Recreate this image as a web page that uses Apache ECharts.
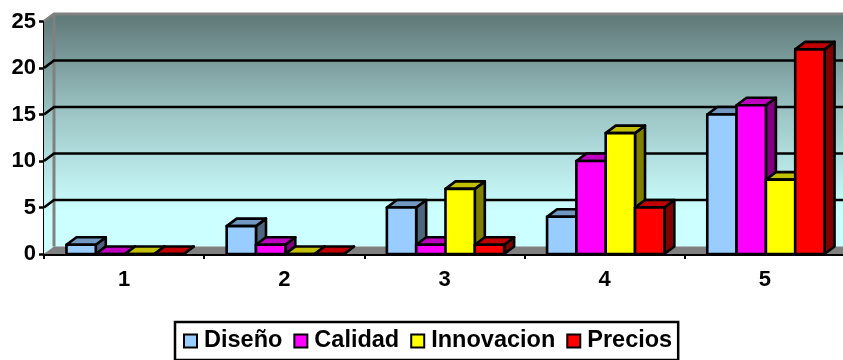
<!DOCTYPE html>
<html>
<head>
<meta charset="utf-8">
<style>html,body{margin:0;padding:0;background:#fff}#chart{width:843px;height:360px}</style>
<script src="https://cdn.jsdelivr.net/npm/echarts@6/dist/echarts.min.js"></script>
</head>
<body>
<div id="chart"></div>
<script>
// Survey scores per group, one array per attribute
const categories = ['1', '2', '3', '4', '5'];
const diseno = [1, 3, 5, 4, 15];
const calidad = [0, 1, 1, 10, 16];
const innovacion = [0, 0, 7, 13, 8];
const precios = [0, 0, 1, 5, 22];
const yTicks = [0, 5, 10, 15, 20, 25];

const FONT = '"Liberation Sans", Arial, sans-serif';
const DX = 10, DY = 7.5;        // depth of the 3D projection, in pixels
const BAR_SHARE = 0.183;        // each bar's share of the category band
const BAR_SHIFT = 1;            // nudge of the bar cluster inside its band

const palette = [
  { name: 'Diseño', values: diseno, front: '#99ccff', top: '#7098c0', side: '#4d6680' },
  { name: 'Calidad', values: calidad, front: '#ff00ff', top: '#c000c0', side: '#800080' },
  { name: 'Innovacion', values: innovacion, front: '#ffff00', top: '#c0c000', side: '#808000' },
  { name: 'Precios', values: precios, front: '#ff0000', top: '#c00000', side: '#800000' }
];

// Box with front, top and side faces
function renderBar(index, style) {
  return function (params, api) {
    const base = api.coord([api.value(0), 0]);
    const tip = api.coord([api.value(0), api.value(1)]);
    const w = api.size([1, 0])[0] * BAR_SHARE;
    const x = base[0] + BAR_SHIFT + (index - 2) * w;
    const lineStyle = { stroke: '#000', lineWidth: 2.6, lineJoin: 'round' };
    const face = (pts, fill) => ({
      type: 'polygon',
      shape: { points: pts },
      style: Object.assign({ fill }, lineStyle)
    });
    const y0 = base[1], y1 = tip[1];
    return {
      type: 'group',
      children: [
        face([[x + w, y0], [x + w + DX, y0 - DY], [x + w + DX, y1 - DY], [x + w, y1]], style.side),
        face([[x, y1], [x + DX, y1 - DY], [x + w + DX, y1 - DY], [x + w, y1]], style.top),
        face([[x, y0], [x + w, y0], [x + w, y1], [x, y1]], style.front)
      ]
    };
  };
}

// Back wall, side wall and floor of the plot box
function renderRoom(params, api) {
  const c = params.coordSys;
  const left = c.x, right = c.x + c.width, top = c.y, bottom = c.y + c.height;
  const wall = {
    type: 'linear', x: 0, y: 0, x2: 0, y2: 1,
    colorStops: [
      { offset: 0, color: '#5f7777' },
      { offset: 0.42, color: '#9cc4c4' },
      { offset: 0.85, color: '#ccffff' },
      { offset: 1, color: '#ccffff' }
    ]
  };
  return {
    type: 'group',
    children: [
      { type: 'polygon', shape: { points: [[left, top], [left + DX, top - DY], [left + DX, bottom - DY], [left, bottom]] }, style: { fill: wall } },
      { type: 'rect', shape: { x: left + DX, y: top - DY, width: c.width, height: c.height }, style: { fill: wall } },
      { type: 'polygon', shape: { points: [[left, bottom], [left + DX, bottom - DY], [right + DX, bottom - DY], [right, bottom]] }, style: { fill: '#808080' } },
      { type: 'polyline', shape: { points: [[left, top], [left + DX, top - DY], [right + DX, top - DY]] }, style: { stroke: '#808080', lineWidth: 3, fill: null } },
      { type: 'line', shape: { x1: left + DX, y1: top - DY, x2: left + DX, y2: bottom - DY }, style: { stroke: '#808080', lineWidth: 3 } }
    ]
  };
}

// Gridline along the back wall, joined to its axis tick across the side wall
function renderGridline(params, api) {
  const value = api.value(0);
  if (value === 0 || value === 25) return null;
  const c = params.coordSys;
  const y = api.coord([0, value])[1];
  return {
    type: 'polyline',
    shape: { points: [[c.x, y], [c.x + DX, y - DY], [c.x + c.width + DX, y - DY]] },
    style: { stroke: '#000', lineWidth: 2.6, fill: null }
  };
}

const chart = echarts.init(document.getElementById('chart'), null, { renderer: 'canvas' });
chart.setOption({
  animation: false,
  backgroundColor: '#fff',
  grid: { left: 44, top: 21.5, width: 801, height: 232.5, outerBoundsMode: 'none' },
  legend: {
    left: 175,
    top: 322,
    data: palette.map(p => p.name),
    icon: 'rect',
    itemWidth: 13,
    itemHeight: 13,
    itemGap: 11,
    padding: [7, 6, 7, 8],
    borderColor: '#000',
    borderWidth: 2.5,
    backgroundColor: '#fff',
    textStyle: { fontFamily: FONT, fontWeight: 'bold', fontSize: 23.5, color: '#000', padding: [0, 0, 0, 2] }
  },
  xAxis: {
    type: 'category',
    data: categories,
    axisLine: { lineStyle: { color: '#000', width: 3 } },
    axisTick: { show: true, length: 5, lineStyle: { color: '#000', width: 2 } },
    axisLabel: { fontFamily: FONT, fontWeight: 'bold', fontSize: 22, color: '#000', margin: 15 }
  },
  yAxis: {
    type: 'value',
    min: 0,
    max: 25,
    interval: 5,
    axisLine: { show: true, lineStyle: { color: '#000', width: 3 } },
    axisTick: { show: true, length: 5, lineStyle: { color: '#000', width: 2.5 } },
    axisLabel: { fontFamily: FONT, fontWeight: 'bold', fontSize: 22, color: '#000', margin: 8 },
    splitLine: { show: false }
  },
  series: [
    { type: 'custom', silent: true, z: 1, clip: false, renderItem: renderRoom, data: [[0]], encode: { x: 0 } },
    { type: 'custom', silent: true, z: 1, clip: false, renderItem: renderGridline, coordinateSystem: 'cartesian2d', data: yTicks.map(v => [v]), encode: { y: 0 } }
  ].concat(palette.map((p, i) => ({
    type: 'custom',
    name: p.name,
    z: 2,
    clip: false,
    itemStyle: { color: p.front, borderColor: '#000', borderWidth: 2.5 },
    renderItem: renderBar(i, p),
    encode: { x: 0, y: 1 },
    data: p.values.map((v, k) => [k, v])
  })))
});
</script>
</body>
</html>
